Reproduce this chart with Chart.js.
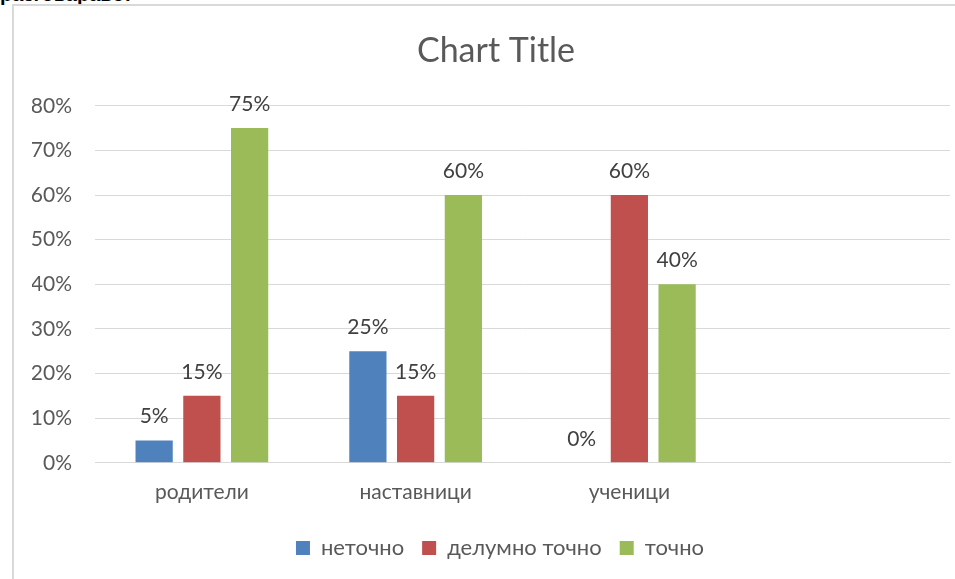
<!DOCTYPE html>
<html>
<head>
<meta charset="utf-8">
<script src="https://cdn.jsdelivr.net/npm/chart.js@4"></script>
<style>
  html, body { margin: 0; padding: 0; background: #fff; overflow: hidden; width: 955px; height: 579px; }
  #head { position: absolute; left: 0; top: -17px; font: bold 20px "Liberation Sans", Arial, sans-serif; color: #000; }
  #frame { position: absolute; left: 12px; top: 4px; width: 970px; height: 590px;
           border-left: 2px solid #d9d9d9; border-top: 2px solid #d9d9d9; }
  #frame canvas { display: block; }
</style>
</head>
<body>
<div id="head">разговараво:</div>
<div id="frame"><canvas id="myChart" width="970" height="573"></canvas></div>
<script>
// категории и вредности (проценти)
const categories = ['родители', 'наставници', 'ученици', ''];
const netochno = [5, 25, 0, null];
const delumno = [15, 15, 60, null];
const tochno = [75, 60, 40, null];
const yTicks = [0, 10, 20, 30, 40, 50, 60, 70, 80];

const FONT = 'Lato, "Open Sans", sans-serif';

// вредности над столбовите
const valueLabels = {
  id: 'valueLabels',
  afterDatasetsDraw(chart) {
    const ctx = chart.ctx;
    ctx.save();
    ctx.font = '21px ' + FONT;
    ctx.fillStyle = '#404040';
    ctx.textAlign = 'center';
    ctx.textBaseline = 'middle';
    chart.data.datasets.forEach((ds, i) => {
      chart.getDatasetMeta(i).data.forEach((bar, j) => {
        const v = ds.data[j];
        if (v === null || v === undefined) return;
        ctx.fillText(v + '%', bar.x, bar.y - 24);
      });
    });
    ctx.restore();
  }
};

// насловот и легендата се малку поместени надесно во оригиналот
const shiftBlocks = {
  id: 'shiftBlocks',
  afterLayout(chart) {
    const move = (box, dx) => { if (box) { box.left += dx; box.right += dx; } };
    move(chart.titleBlock, 5);
    move(chart.legend, 9);
  }
};

new Chart(document.getElementById('myChart').getContext('2d'), {
  type: 'bar',
  data: {
    labels: categories,
    datasets: [
      { label: 'неточно', data: netochno, backgroundColor: '#4F81BD' },
      { label: 'делумно точно', data: delumno, backgroundColor: '#C0504D' },
      { label: 'точно', data: tochno, backgroundColor: '#9BBB59' }
    ]
  },
  options: {
    responsive: false,
    animation: false,
    layout: { padding: { left: 18, right: 34, top: 8, bottom: 10 } },
    datasets: { bar: { barPercentage: 0.78, categoryPercentage: 0.67 } },
    scales: {
      x: {
        afterFit(axis) { axis.height += 5; },
        grid: { display: false },
        border: { color: '#d9d9d9', width: 1 },
        ticks: { color: '#595959', font: { family: FONT, size: 21 }, padding: 9 }
      },
      y: {
        min: 0, max: 80,
        afterBuildTicks(axis) { axis.ticks = yTicks.map(v => ({ value: v })); },
        afterFit(axis) { axis.width = 63; },
        grid: { color: '#d9d9d9', lineWidth: 1, drawTicks: false },
        border: { display: false },
        ticks: { color: '#595959', font: { family: FONT, size: 21 }, padding: 23,
                 callback: v => v + '%' }
      }
    },
    plugins: {
      title: { display: true, text: 'Chart Title', color: '#595959',
               font: { family: FONT, size: 34, weight: 'normal' }, padding: { top: 17, bottom: 34 } },
      legend: { position: 'bottom',
                labels: { color: '#595959', font: { family: FONT, size: 22 },
                          boxWidth: 14, boxHeight: 14, padding: 18 } },
      tooltip: { enabled: false }
    }
  },
  plugins: [valueLabels, shiftBlocks]
});
</script>
</body>
</html>
